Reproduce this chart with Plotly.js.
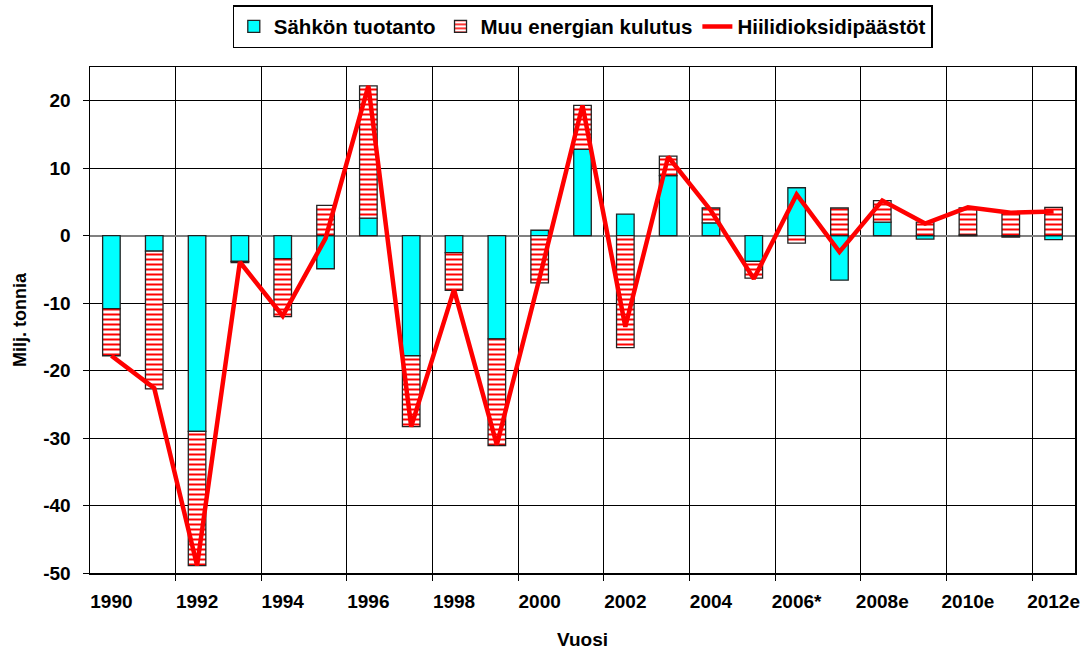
<!DOCTYPE html>
<html>
<head>
<meta charset="utf-8">
<script src="https://cdn.plot.ly/plotly-3.0.1.min.js"></script>
<style>html,body{margin:0;padding:0;background:#fff;}#chart{width:1090px;height:655px;}</style>
</head>
<body>
<div id="chart"></div>
<script>
const years = ['1990','1991','1992','1993','1994','1995','1996','1997','1998','1999','2000','2001','2002','2003','2004','2005','2006*','2007','2008e','2009e','2010e','2011e','2012e'];
const sahkonTuotanto = [-10.8, -2.3, -29.0, -3.8, -3.4, -4.9, 2.6, -17.8, -2.5, -15.3, 0.8, 12.8, 3.2, 8.9, 1.9, -3.8, 7.1, -6.6, 2.0, -0.5, 0.1, -0.2, -0.6];
const muuKulutus = [-7.0, -20.4, -19.9, -0.2, -8.6, 4.5, 19.6, -10.5, -5.6, -15.8, -7.0, 6.5, -16.6, 2.9, 2.2, -2.5, -1.1, 4.1, 3.2, 2.0, 4.0, 3.5, 4.2];
const paastot = [-17.8, -22.6, -48.9, -3.9, -11.9, -0.4, 22.2, -28.3, -8.0, -31.0, -6.2, 19.3, -13.5, 11.7, 3.7, -6.4, 6.1, -2.4, 5.2, 1.8, 4.2, 3.4, 3.6];
const yTicks = [-50, -40, -30, -20, -10, 0, 10, 20];

const xi = years.map((_, i) => i);
const labelIdx = xi.filter(i => i % 2 === 0);
const boundaries = xi.filter(i => i % 2 === 1 && i < years.length - 1).map(i => i + 0.5);

const font = {family: 'Liberation Sans, Arial, sans-serif', size: 19, color: '#000', weight: 'bold'};

const traces = [
  {type: 'bar', name: 'Sähkön tuotanto', x: xi, y: sahkonTuotanto,
   marker: {color: '#00FFFF', line: {color: '#222', width: 1.3}}},
  {type: 'bar', name: 'Muu energian kulutus', x: xi, y: muuKulutus,
   marker: {color: '#FFFFFF', line: {color: '#222', width: 1.3},
            pattern: {shape: '-', fgcolor: '#FF0000', bgcolor: '#FFFFFF', size: 5, solidity: 0.4}}},
  {type: 'scatter', mode: 'lines', name: 'Hiilidioksidipäästöt', x: xi, y: paastot,
   line: {color: '#FF0000', width: 4.5}}
];

const layout = {
  width: 1090, height: 655,
  margin: {l: 90, r: 15, t: 67, b: 82, autoexpand: false},
  paper_bgcolor: '#fff', plot_bgcolor: '#fff',
  font: font,
  barmode: 'relative',
  bargap: 0.59,
  showlegend: true,
  legend: {orientation: 'h', x: 0.5, xanchor: 'center', y: 1.122, yanchor: 'top',
           bordercolor: '#000', borderwidth: 1.3, bgcolor: '#fff',
           font: {family: font.family, size: 20.5, color: '#000', weight: 'bold'},
           traceorder: 'normal', itemwidth: 30},
  xaxis: {
    range: [-0.5, years.length - 0.5],
    tickmode: 'array', tickvals: labelIdx, ticktext: labelIdx.map(i => years[i]),
    ticks: '', showgrid: false, zeroline: false,
    ticklabelstandoff: 11,
    tickfont: {family: font.family, size: 19, color: '#000', weight: 'bold'},
    showline: true, mirror: true, linecolor: '#000', linewidth: 1.5,
    minor: {tickmode: 'array', tickvals: boundaries, showgrid: true, gridcolor: '#000', gridwidth: 1,
            ticks: 'outside', ticklen: 6, tickcolor: '#000', tickwidth: 1},
    title: {text: 'Vuosi', standoff: 21, font: {family: font.family, size: 19, color: '#000', weight: 'bold'}}
  },
  yaxis: {
    range: [-50, 25],
    tickmode: 'array', tickvals: yTicks, ticktext: yTicks.map(String),
    ticks: 'outside', ticklen: 6, tickcolor: '#000', tickwidth: 1,
    ticklabelstandoff: 8,
    tickfont: {family: font.family, size: 19, color: '#000', weight: 'bold'},
    showgrid: true, gridcolor: '#000', gridwidth: 1,
    zeroline: true, zerolinecolor: '#808080', zerolinewidth: 2,
    showline: true, mirror: true, linecolor: '#000', linewidth: 1.5,
    title: {text: 'Milj. tonnia', standoff: 12, font: {family: font.family, size: 18, color: '#000', weight: 'bold'}}
  }
};

Plotly.newPlot('chart', traces, layout, {displayModeBar: false, staticPlot: true});
</script>
</body>
</html>
